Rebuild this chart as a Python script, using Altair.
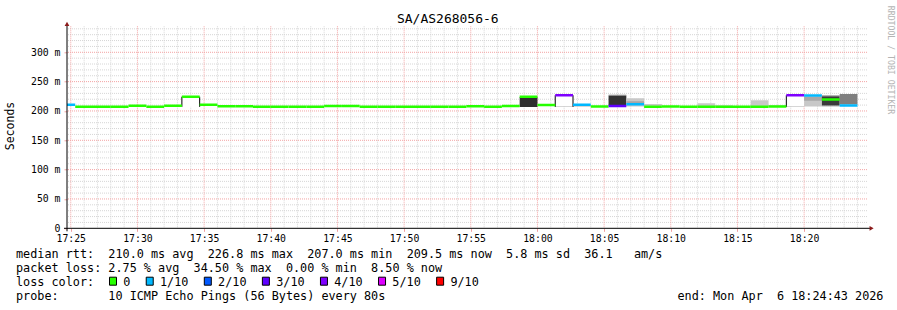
import altair as alt
import pandas as pd

MONO = "DejaVu Sans Mono"
NB = "\u00a0"

# ---------------- data ----------------
TITLE = "SA/AS268056-6"
graph_start = "17:24:43"
graph_end = "18:24:43"

step_start = [
    "17:24:00", "17:25:20", "17:26:40", "17:28:00", "17:29:20", "17:30:40", "17:32:00",
    "17:33:20", "17:34:40", "17:36:00", "17:37:20", "17:38:40", "17:40:00", "17:41:20",
    "17:42:40", "17:44:00", "17:45:20", "17:46:40", "17:48:00", "17:49:20", "17:50:40",
    "17:52:00", "17:53:20", "17:54:40", "17:56:00", "17:57:20", "17:58:40", "18:00:00",
    "18:01:20", "18:02:40", "18:04:00", "18:05:20", "18:06:40", "18:08:00", "18:09:20",
    "18:10:40", "18:12:00", "18:13:20", "18:14:40", "18:16:00", "18:17:20", "18:18:40",
    "18:20:00", "18:21:20", "18:22:40",
]
median_ms = [
    210.5, 207.0, 207.0, 207.0, 209.0, 207.0, 209.0,
    224.3, 210.7, 208.0, 208.0, 207.0, 207.0, 207.0,
    207.0, 208.5, 208.5, 207.0, 207.0, 207.0, 207.0,
    207.0, 207.0, 208.0, 207.0, 208.5, 224.3, 210.2,
    226.8, 210.5, 207.6, 208.6, 211.5, 207.3, 207.5,
    207.0, 207.0, 207.0, 207.0, 207.0, 207.5, 226.8,
    226.3, 219.5, 209.5,
]
loss_level = [
    "1/10", "0", "0", "0", "0", "0", "0",
    "0", "0", "0", "0", "0", "0", "0",
    "0", "0", "0", "0", "0", "0", "0",
    "0", "0", "0", "0", "0", "0", "0",
    "4/10", "1/10", "0", "3/10", "1/10", "0", "0",
    "0", "0", "0", "0", "0", "0", "4/10",
    "1/10", "0", "1/10",
]

loss_labels = ["0", "1/10", "2/10", "3/10", "4/10", "5/10", "9/10"]
loss_colors = ["#26ff00", "#00b8ff", "#0059ff", "#5e00ff", "#7e00ff", "#dd00ff", "#ff0000"]

# smoke (ping distribution) bands
smoke_step = [
    "17:33:20", "17:58:40", "18:01:20", "18:01:20", "18:02:40", "18:05:20", "18:05:20",
    "18:06:40", "18:06:40", "18:08:00", "18:12:00", "18:13:20", "18:16:00", "18:17:20",
    "18:18:40", "18:18:40", "18:20:00", "18:20:00", "18:21:20", "18:21:20", "18:21:20",
    "18:22:40",
]
smoke_lo = [
    207.0, 206.8, 207.0, 208.6, 207.0, 209.2, 226.0,
    207.5, 213.0, 208.5, 207.5, 207.5, 207.5, 207.5,
    207.0, 208.6, 207.5, 217.5, 207.5, 209.5, 225.0,
    211.0,
]
smoke_hi = [
    224.3, 223.8, 208.6, 226.8, 209.4, 226.0, 227.6,
    221.5, 216.5, 212.0, 213.0, 210.0, 218.3, 210.0,
    208.6, 226.8, 224.5, 224.5, 209.5, 225.0, 226.5,
    229.0,
]
smoke_shade = [
    "#ffffff", "#2e2e2e", "#c8c8c8", "#ffffff", "#c8c8c8", "#333333", "#7a7a7a",
    "#c8c8c8", "#a6a6a6", "#c8c8c8", "#c8c8c8", "#d4d4d4", "#c8c8c8", "#d4d4d4",
    "#c8c8c8", "#ffffff", "#c8c8c8", "#a8a8a8", "#b0b0b0", "#3a3a3a", "#6a6a6a",
    "#7f7f7f",
]

edge_time = ["17:33:20", "17:34:40", "18:01:20", "18:02:40", "18:18:40"]
edge_lo = [207.0, 207.0, 207.0, 207.0, 207.0]
edge_hi = [224.3, 224.3, 226.8, 226.8, 226.8]

x_major = [25, 30, 35, 40, 45, 50, 55, 60, 65, 70, 75, 80]
y_major = [0, 50, 100, 150, 200, 250, 300]

row_rtt = "median rtt:  210.0 ms avg  226.8 ms max  207.0 ms min  209.5 ms now  5.8 ms sd  36.1   am/s"
row_loss = "packet loss: 2.75 % avg  34.50 % max  0.00 % min  8.50 % now"
row_color = "loss color:"
row_probe = "probe:       10 ICMP Echo Pings (56 Bytes) every 80s"
row_end = "end: Mon Apr  6 18:24:43 2026"
y_title = "Seconds"
side_text = "RRDTOOL / TOBI OETIKER"

# ---------------- helpers ----------------
def mins(t):
    h, m, s = (int(v) for v in t.split(":"))
    return (h - 17) * 60 + m + s / 60.0

X0, X1 = mins(graph_start), mins(graph_end)
STEP = 80 / 60.0
W, H = 800, 202
LEFT, TOP = 67, 26.3

xscale = alt.Scale(domain=[X0, X1], nice=False, zero=False)
yscale = alt.Scale(domain=[0, 344.3], nice=False, zero=False)

x_axis = alt.Axis(values=x_major, grid=False, domain=False, ticks=True, tickSize=3, tickColor="#f0a0a0",
                  labelExpr="format(floor(datum.value/60)+17,'d') + ':' + format(datum.value % 60,'02d')",
                  labelFont=MONO, labelFontSize=9.8, labelColor="black", labelPadding=10.0,
                  labelBaseline="alphabetic", labelFlush=False, labelOverlap=False, title=None)
y_axis = alt.Axis(values=y_major, grid=False, domain=False, ticks=True, tickSize=3, tickColor="#f0a0a0",
                  labelExpr="datum.value == 0 ? '0" + NB + NB + "' : datum.value + '" + NB + "m'",
                  labelFont=MONO, labelFontSize=9.8, labelColor="black", labelPadding=4,
                  labelFlush=False, labelOverlap=False, title=None)


def X(field):
    return alt.X(field, scale=xscale, axis=x_axis)


def Y(field):
    return alt.Y(field, scale=yscale, axis=y_axis)


color_of = dict(zip(loss_labels, loss_colors))
steps = pd.DataFrame({"start": [mins(t) for t in step_start], "median": median_ms, "loss": loss_level})
steps["end"] = steps["start"] + STEP
steps["color"] = steps["loss"].map(color_of)

smoke = pd.DataFrame({"start": [mins(t) for t in smoke_step], "lo": smoke_lo, "hi": smoke_hi, "shade": smoke_shade})
smoke["end"] = smoke["start"] + STEP

edges = pd.DataFrame({"t": [mins(t) for t in edge_time], "lo": edge_lo, "hi": edge_hi})

one = pd.DataFrame({"a": [0]})


def txt(s, ax, ay, size=11.8, align="left", baseline="alphabetic", color="black", angle=0):
    kw = dict(font=MONO, fontSize=size, align=align, baseline=baseline, color=color)
    if angle:
        kw["angle"] = angle
    return alt.Chart(pd.DataFrame({"t": [s.replace(" ", NB)]})).mark_text(**kw).encode(
        text="t:N", x=alt.value(ax - LEFT), y=alt.value(ay - TOP)
    )


layers = []

# grid
minor_y = pd.DataFrame({"v": [v for v in range(10, 341, 10) if v % 50]})
major_y = pd.DataFrame({"v": [v for v in y_major if v > 0]})
minor_x = pd.DataFrame({"v": [m for m in range(25, 85) if m % 5]})
major_x = pd.DataFrame({"v": x_major})

MINOR = "#d6d6d6"
MAJOR = "#f3a3a3"
layers.append(alt.Chart(minor_y).mark_rule(color=MINOR, strokeDash=[1, 1], strokeWidth=1).encode(y=Y("v:Q")))
layers.append(alt.Chart(minor_x).mark_rule(color=MINOR, strokeDash=[1, 1], strokeWidth=1).encode(x=X("v:Q")))
layers.append(alt.Chart(major_y).mark_rule(color=MAJOR, strokeDash=[1, 1], strokeWidth=1).encode(y=Y("v:Q")))
layers.append(alt.Chart(major_x).mark_rule(color=MAJOR, strokeDash=[1, 1], strokeWidth=1).encode(x=X("v:Q")))

# smoke
layers.append(alt.Chart(smoke).mark_rect(clip=True).encode(
    x=X("start:Q"), x2="end:Q", y=Y("lo:Q"), y2="hi:Q",
    fill=alt.Fill("shade:N", scale=None)))

# black edges
layers.append(alt.Chart(edges).mark_rule(color="black", strokeWidth=1).encode(
    x=X("t:Q"), y=Y("lo:Q"), y2="hi:Q"))

# median line coloured by loss
layers.append(alt.Chart(steps).mark_rule(strokeWidth=2.5, clip=True).encode(
    x=X("start:Q"), x2="end:Q", y=Y("median:Q"),
    color=alt.Color("color:N", scale=None)))

# axis lines and arrows
layers.append(alt.Chart(one).mark_rule(color="black", strokeWidth=1).encode(
    x=alt.value(-3), x2=alt.value(W + 3), y=alt.value(H)))
layers.append(alt.Chart(one).mark_rule(color="black", strokeWidth=1).encode(
    x=alt.value(0), y=alt.value(H + 3), y2=alt.value(-2)))
layers.append(alt.Chart(one).mark_point(shape="triangle-up", filled=True, size=22, color="#8b1a1a", opacity=1).encode(
    x=alt.value(0), y=alt.value(-2.4)))
layers.append(alt.Chart(one).mark_point(shape="triangle-right", filled=True, size=22, color="#8b1a1a", opacity=1).encode(
    x=alt.value(W + 4.6), y=alt.value(H)))

# texts
layers.append(txt(TITLE, 447.8, 23.3, size=13, align="center"))
layers.append(txt(y_title, 10.5, 126, size=11.5, align="center", baseline="middle", angle=270))
layers.append(txt(side_text, 890, 60, size=8.2, align="center", baseline="middle", color="#b4b4b4", angle=90))
layers.append(txt(row_rtt, 16, 258.3))
layers.append(txt(row_loss, 16, 272.3))
layers.append(txt(row_color, 16, 286.2))
layers.append(txt(row_probe, 16, 300.1))
layers.append(txt(row_end, 677.5, 300.1))

# loss colour legend
pos = 109.0
for lab, col in zip(loss_labels, loss_colors):
    layers.append(alt.Chart(one).mark_rect(fill=col, stroke="black", strokeWidth=1).encode(
        x=alt.value(pos + 0.5 - LEFT), x2=alt.value(pos + 7.5 - LEFT),
        y=alt.value(277.2 - TOP), y2=alt.value(285.2 - TOP)))
    layers.append(txt(lab, pos + 14.3, 286.2))
    pos += 14.3 + len(lab) * 7.12 + 15.3

chart = alt.layer(*layers).properties(
    width=W, height=H,
    autosize=alt.AutoSizeParams(type="none"),
    padding={"left": LEFT, "top": TOP, "right": 897 - LEFT - W, "bottom": 310 - TOP - H},
).configure_view(strokeWidth=0)

chart.save("out.html", embed_options={"renderer": "svg", "actions": False})
